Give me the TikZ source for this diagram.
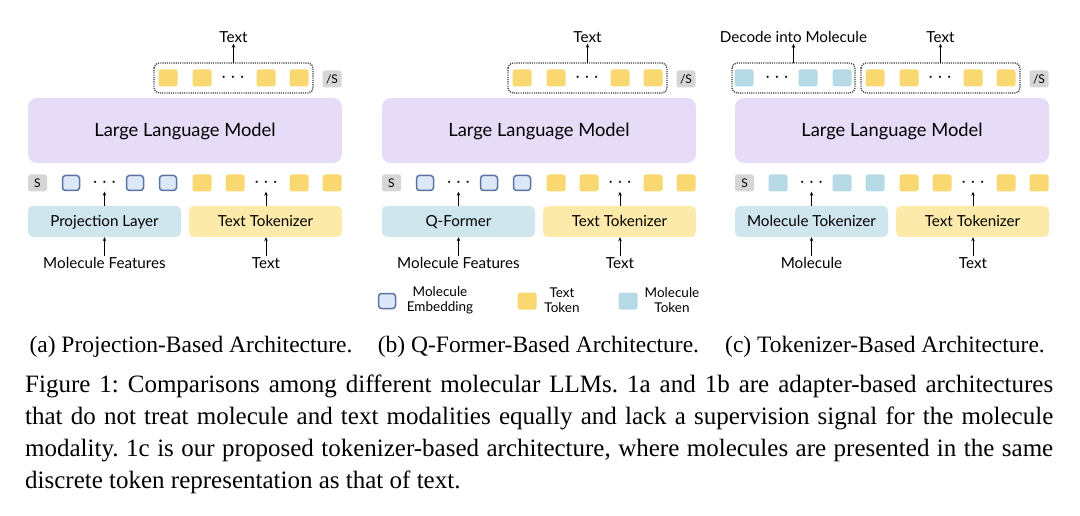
\documentclass[tikz,border=0pt]{standalone}
\usepackage{fontspec}
\setmainfont{Liberation Serif}
\newfontfamily\diag{Lato}
\usetikzlibrary{arrows.meta}
\definecolor{llmC}{HTML}{E6DCF8}
\definecolor{tokY}{HTML}{F9D872}
\definecolor{boxY}{HTML}{FBEAA9}
\definecolor{tokB}{HTML}{B5DAE5}
\definecolor{boxB}{HTML}{CFE6EE}
\definecolor{embF}{HTML}{DCE7F7}
\definecolor{embD}{HTML}{5C74A2}
\definecolor{sG}{HTML}{D6D6D6}
\definecolor{dotC}{HTML}{3A3A3A}
\tikzset{
  tok/.style={rectangle, rounded corners=2.5pt, minimum width=19pt, minimum height=17pt, inner sep=0pt},
  ytok/.style={tok, fill=tokY},
  btok/.style={tok, fill=tokB},
  etok/.style={tok, fill=embF, draw=embD, line width=1.5pt, minimum width=17pt, minimum height=15pt, rounded corners=3pt},
  sbox/.style={tok, fill=sG, font=\diag\fontsize{12}{12}\selectfont, text height=8.5pt, text depth=0pt},
  dotsn/.style={inner sep=0pt, minimum height=17pt, minimum width=18pt, font=\fontsize{21}{21}\selectfont},
  llm/.style={rectangle, fill=llmC, rounded corners=9pt, minimum width=314pt, minimum height=65pt, inner sep=0pt, font=\diag\fontsize{18.3}{20}\selectfont, text height=13pt, text depth=1pt},
  encB/.style={rectangle, fill=boxB, rounded corners=5pt, minimum width=153pt, minimum height=31pt, inner sep=0pt, font=\diag\fontsize{15.2}{16}\selectfont, text height=11pt, text depth=0.5pt},
  encY/.style={encB, fill=boxY},
  lbl/.style={inner sep=1pt, font=\diag\fontsize{15.2}{16}\selectfont},
  leg/.style={inner sep=0pt, align=center, font=\diag\fontsize{13.5}{15}\selectfont},
  grp/.style={draw=dotC, line width=1.3pt, dash pattern=on 1.1pt off 1.1pt, rounded corners=5pt, fill=none},
  arr/.style={-{Stealth[length=4pt,width=3.5pt]}, line width=0.8pt},
  captxt/.style={inner sep=0pt, font=\fontsize{23.5}{28}\selectfont}
}
\newcommand{\panelbody}[5]{%
  \begin{scope}[xshift=#1pt]
    % LLM
    \node[llm] (#2llm) at (185,130.5) {Large Language Model};
    % top row
    \node[ytok] (#2t1) at (168,78) {};
    \node[ytok] (#2t2) at (202,78) {};
    \node[dotsn] (#2td) at (233,78) {$\cdots$};
    \node[ytok] (#2t3) at (266,78) {};
    \node[ytok] (#2t4) at (299,78) {};
    \node[sbox] (#2es) at (332,79) {/S};
    \draw[grp] (154,63) rectangle (313,93);
    \coordinate (#2gt) at (233.5,63);
    \node[lbl] (#2out) at (233.5,37) {Text};
    \draw[arr] (#2gt) -- (#2out.south);
    % bottom row
    \node[sbox] (#2s) at (37.5,183) {S};
    \node[#3] (#2m1) at (71,183) {};
    \node[dotsn] (#2md) at (104.5,183) {$\cdots$};
    \node[#3] (#2m2) at (135,183) {};
    \node[#3] (#2m3) at (168,183) {};
    \node[ytok] (#2y1) at (202,183) {};
    \node[ytok] (#2y2) at (235,183) {};
    \node[dotsn] (#2yd) at (266,183) {$\cdots$};
    \node[ytok] (#2y3) at (299,183) {};
    \node[ytok] (#2y4) at (332,183) {};
    % encoders
    \node[encB] (#2enc) at (104.5,221.5) {#4};
    \node[encY] (#2tt) at (265.5,221.5) {Text Tokenizer};
    \draw[arr] (#2enc.north -| #2md) -- (#2md.south);
    \draw[arr] (#2tt.north -| #2yd) -- (#2yd.south);
    % inputs
    \node[lbl] (#2in) at (104.5,263) {#5};
    \node[lbl] (#2tin) at (266,263) {Text};
    \draw[arr] (#2in.north) -- (#2in.north |- #2enc.south);
    \draw[arr] (#2tin.north) -- (#2tin.north |- #2tt.south);
  \end{scope}}
\begin{document}
\frenchspacing
\begin{tikzpicture}[x=1pt,y=-1pt]
\useasboundingbox[fill=white] (0,0) rectangle (1080,516);
\panelbody{0}{a}{etok}{Projection Layer}{Molecule Features}
\panelbody{354}{b}{etok}{Q-Former}{Molecule Features}
\panelbody{707}{c}{btok}{Molecule Tokenizer}{Molecule}
% panel c extra top group
\node[btok] (cb1) at (744,78) {};
\node[dotsn] (cbd) at (777,78) {$\cdots$};
\node[btok] (cb2) at (808,78) {};
\node[btok] (cb3) at (842,78) {};
\draw[grp] (732,63) rectangle (855,93);
\coordinate (cgb) at (793.5,63);
\node[lbl] (cdec) at (793.5,37) {Decode into Molecule};
\draw[arr] (cgb) -- (cdec.south);
% legend
\node[etok] (lg1) at (387,301) {};
\node[leg] (lg1t) at (440,300.5) {Molecule\\Embedding};
\node[ytok] (lg2) at (527,301) {};
\node[leg] (lg2t) at (562,300.5) {Text\\Token};
\node[btok] (lg3) at (628,301) {};
\node[leg] (lg3t) at (672,300.5) {Molecule\\Token};
% sub-captions
\node[captxt] (capa) at (191,347) {(a) Projection-Based Architecture.};
\node[captxt] (capb) at (538.5,347) {(b) Q-Former-Based Architecture.};
\node[captxt] (capc) at (885,347) {(c) Tokenizer-Based Architecture.};
% caption
\node[captxt, anchor=north west, text width=1028pt, align=justify, font=\fontsize{25}{32}\selectfont] (fig) at (25,375)
{Figure 1: Comparisons among different molecular LLMs. 1a and 1b are adapter-based architectures\linebreak
that do not treat molecule and text modalities equally and lack a supervision signal for the molecule\linebreak
modality. 1c is our proposed tokenizer-based architecture, where molecules are presented in the same\linebreak
discrete token representation as that of text.};
\end{tikzpicture}
\end{document}
